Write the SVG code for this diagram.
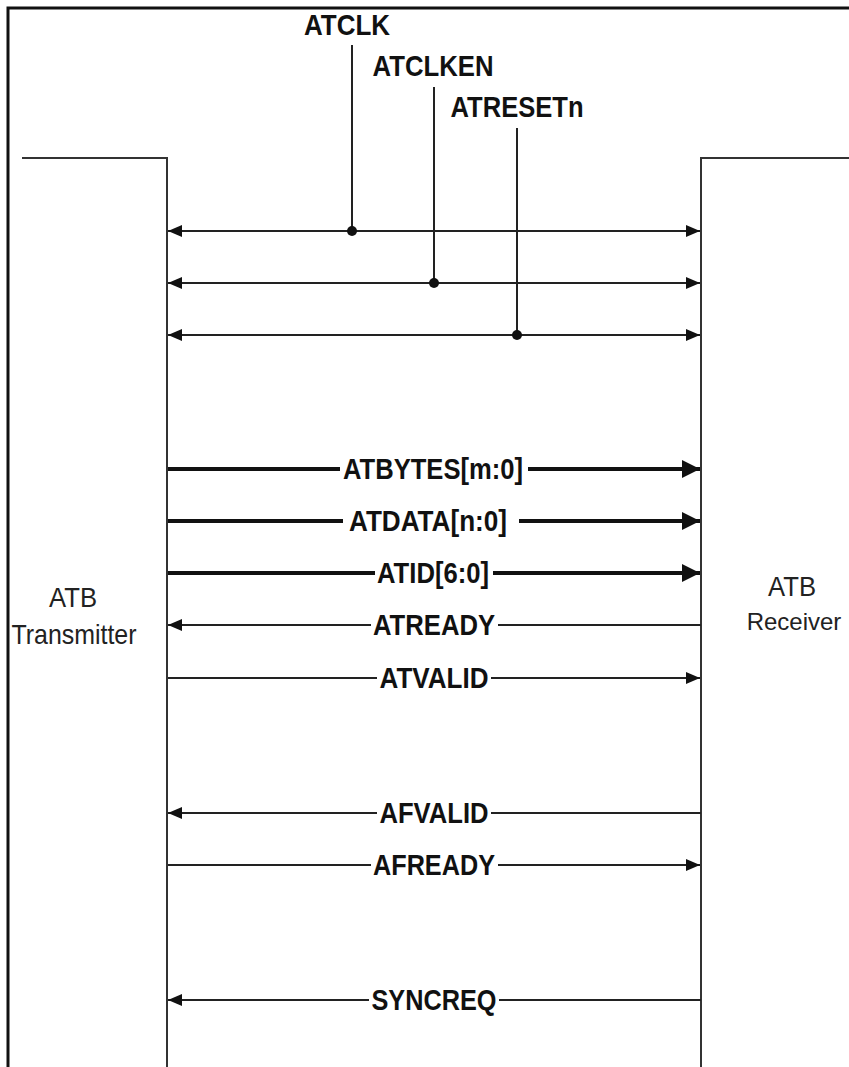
<svg xmlns="http://www.w3.org/2000/svg" width="849" height="1067" viewBox="0 0 849 1067">
<style>
.frame{stroke:#111;stroke-width:3;fill:none}
.box{stroke:#333;stroke-width:2;fill:none}
.thin{stroke:#222;stroke-width:2;fill:none}
.thick{stroke:#111;stroke-width:4;fill:none}
.sig{font-family:"Liberation Sans",Arial,sans-serif;font-weight:bold;font-size:30px;fill:#111;text-anchor:middle}
.blk{font-family:"Liberation Sans",Arial,sans-serif;font-size:28px;fill:#222;text-anchor:middle}
.bg{fill:#fff}
.dot{fill:#111}
</style>
<defs>
<marker id="ah" markerUnits="userSpaceOnUse" markerWidth="14" markerHeight="12" refX="14" refY="6" orient="auto-start-reverse">
<path d="M0,0 L14,6 L0,12 z" fill="#111"/>
</marker>
<marker id="ahb" markerUnits="userSpaceOnUse" markerWidth="18" markerHeight="18" refX="18" refY="9" orient="auto">
<path d="M0,0 L18,9 L0,18 z" fill="#111"/>
</marker>
</defs>
<rect width="849" height="1067" fill="#fff"/>
<path class="frame" d="M8,1067 V8 H849"/>

<g id="transmitter">
<path class="box" d="M22,158 H167 V1067"/>
<text class="blk" x="73" y="607" textLength="48" lengthAdjust="spacingAndGlyphs">ATB</text>
<text class="blk" x="74" y="644" textLength="125" lengthAdjust="spacingAndGlyphs">Transmitter</text>
</g>
<g id="receiver">
<path class="box" d="M849,158 H701 V1067"/>
<text class="blk" x="792" y="596" textLength="48" lengthAdjust="spacingAndGlyphs">ATB</text>
<text class="blk" x="794" y="630" style="font-size:24px">Receiver</text>
</g>

<g id="connectors">
<line class="thin" x1="352" y1="45" x2="352" y2="231"/>
<line class="thin" x1="434" y1="87" x2="434" y2="283"/>
<line class="thin" x1="517" y1="128" x2="517" y2="335"/>
<line class="thin" x1="168" y1="231" x2="700" y2="231" marker-start="url(#ah)" marker-end="url(#ah)"/>
<line class="thin" x1="168" y1="283" x2="700" y2="283" marker-start="url(#ah)" marker-end="url(#ah)"/>
<line class="thin" x1="168" y1="335" x2="700" y2="335" marker-start="url(#ah)" marker-end="url(#ah)"/>
<circle class="dot" cx="352" cy="231" r="5"/>
<circle class="dot" cx="434" cy="283" r="5"/>
<circle class="dot" cx="517" cy="335" r="5"/>

<line class="thick" x1="168" y1="469" x2="700" y2="469" marker-end="url(#ahb)"/>
<line class="thick" x1="168" y1="521" x2="700" y2="521" marker-end="url(#ahb)"/>
<line class="thick" x1="168" y1="573" x2="700" y2="573" marker-end="url(#ahb)"/>
<line class="thin" x1="701" y1="625" x2="168" y2="625" marker-end="url(#ah)"/>
<line class="thin" x1="168" y1="678" x2="700" y2="678" marker-end="url(#ah)"/>
<line class="thin" x1="701" y1="813" x2="168" y2="813" marker-end="url(#ah)"/>
<line class="thin" x1="168" y1="865" x2="700" y2="865" marker-end="url(#ah)"/>
<line class="thin" x1="701" y1="1000" x2="168" y2="1000" marker-end="url(#ah)"/>
</g>

<g id="labels">
<text class="sig" x="347" y="35" textLength="86" lengthAdjust="spacingAndGlyphs">ATCLK</text>
<text class="sig" x="433" y="76" textLength="121" lengthAdjust="spacingAndGlyphs">ATCLKEN</text>
<text class="sig" x="517" y="117" textLength="133" lengthAdjust="spacingAndGlyphs">ATRESETn</text>

<rect class="bg" x="340" y="454" width="188" height="30"/>
<text class="sig" x="433" y="479" textLength="180" lengthAdjust="spacingAndGlyphs">ATBYTES[m:0]</text>
<rect class="bg" x="343" y="506" width="176" height="30"/>
<text class="sig" x="428" y="531" textLength="158" lengthAdjust="spacingAndGlyphs">ATDATA[n:0]</text>
<rect class="bg" x="375" y="558" width="118" height="30"/>
<text class="sig" x="433" y="583" textLength="112" lengthAdjust="spacingAndGlyphs">ATID[6:0]</text>
<rect class="bg" x="371" y="610" width="127" height="30"/>
<text class="sig" x="434" y="635" textLength="122" lengthAdjust="spacingAndGlyphs">ATREADY</text>
<rect class="bg" x="377" y="663" width="114" height="30"/>
<text class="sig" x="434" y="688" textLength="109" lengthAdjust="spacingAndGlyphs">ATVALID</text>
<rect class="bg" x="377" y="798" width="114" height="30"/>
<text class="sig" x="434" y="823" textLength="109" lengthAdjust="spacingAndGlyphs">AFVALID</text>
<rect class="bg" x="371" y="850" width="127" height="30"/>
<text class="sig" x="434" y="875" textLength="122" lengthAdjust="spacingAndGlyphs">AFREADY</text>
<rect class="bg" x="369" y="985" width="130" height="30"/>
<text class="sig" x="434" y="1010" textLength="125" lengthAdjust="spacingAndGlyphs">SYNCREQ</text>
</g>
</svg>
